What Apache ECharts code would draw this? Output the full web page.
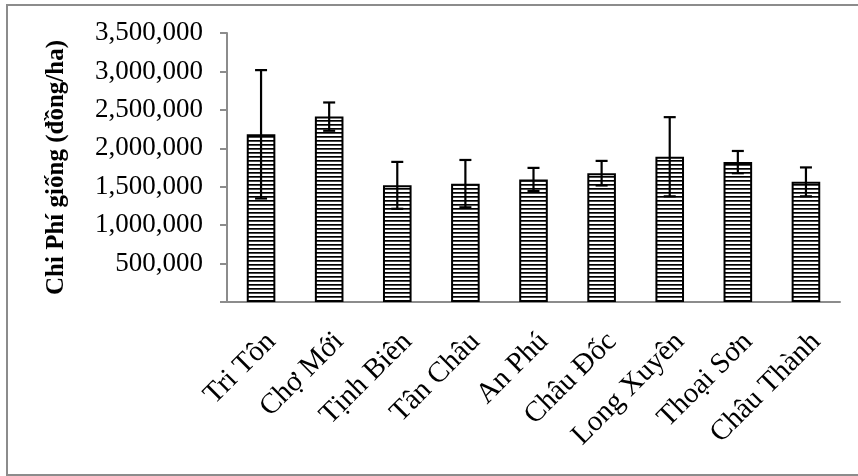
<!DOCTYPE html>
<html>
<head>
<meta charset="utf-8">
<script src="https://cdn.jsdelivr.net/npm/echarts@6/dist/echarts.min.js"></script>
<style>
html,body{margin:0;padding:0;background:#fff;}
#chart{width:858px;height:476px;}
</style>
</head>
<body>
<div id="chart"></div>
<script>
var categories = ['Tri Tôn', 'Chợ Mới', 'Tịnh Biên', 'Tân Châu', 'An Phú', 'Châu Đốc', 'Long Xuyên', 'Thoại Sơn', 'Châu Thành'];
var means = [2182000, 2412000, 1518000, 1540000, 1595000, 1676000, 1890000, 1820000, 1563000];
var errors = [835000, 184000, 305000, 308000, 150000, 160000, 515000, 145000, 188000];
var yTicks = [0, 500000, 1000000, 1500000, 2000000, 2500000, 3000000, 3500000];
var yTitle = 'Chi Phí giống (đồng/ha)';

var FONT = '"Liberation Serif", "Times New Roman", serif';

// stripe pattern
var pc = document.createElement('canvas');
pc.width = 8; pc.height = 4;
var ctx = pc.getContext('2d');
ctx.fillStyle = '#ffffff'; ctx.fillRect(0, 0, 8, 4);
ctx.fillStyle = '#000000'; ctx.fillRect(0, 0, 8, 1.7);

var errData = means.map(function (m, i) { return [i, m - errors[i], m + errors[i]]; });

function fmt(v) {
  if (v === 0) return '';
  return String(v).replace(/\B(?=(\d{3})+(?!\d))/g, ',');
}

var chart = echarts.init(document.getElementById('chart'), null, {renderer: 'canvas'});
chart.setOption({
  animation: false,
  backgroundColor: '#ffffff',
  graphic: [{
    type: 'rect',
    shape: {x: 7, y: 5, width: 870, height: 470},
    style: {fill: 'none', stroke: '#8c8c8c', lineWidth: 2},
    silent: true
  }],
  grid: {left: 227, right: 18, top: 33, bottom: 174, containLabel: false},
  xAxis: {
    type: 'category',
    data: categories,
    axisLine: {show: true, lineStyle: {color: '#8c8c8c', width: 2}},
    axisTick: {show: false},
    axisLabel: {
      rotate: 45,
      interval: 0,
      margin: 25,
      verticalAlign: 'top',
      color: '#000',
      fontFamily: FONT,
      fontSize: 29
    }
  },
  yAxis: {
    type: 'value',
    min: yTicks[0],
    max: yTicks[yTicks.length - 1],
    interval: yTicks[1] - yTicks[0],
    name: yTitle,
    nameLocation: 'middle',
    nameGap: 158,
    nameRotate: 90,
    nameTextStyle: {fontFamily: FONT, fontSize: 25, fontWeight: 'bold', color: '#000'},
    axisLine: {show: true, lineStyle: {color: '#8c8c8c', width: 2}},
    axisTick: {show: true, length: 7, lineStyle: {color: '#8c8c8c', width: 2}},
    splitLine: {show: false},
    axisLabel: {
      formatter: fmt,
      color: '#000',
      fontFamily: FONT,
      fontSize: 27,
      margin: 24
    }
  },
  series: [{
    type: 'bar',
    data: means,
    barWidth: '42%',
    itemStyle: {
      color: {image: pc, repeat: 'repeat'},
      borderColor: '#000',
      borderWidth: 2
    },
    z: 2
  }, {
    type: 'custom',
    data: errData,
    z: 3,
    renderItem: function (params, api) {
      var x = api.value(0);
      var lo = api.coord([x, api.value(1)]);
      var hi = api.coord([x, api.value(2)]);
      var hw = 6;
      var st = {stroke: '#000', lineWidth: 2.2};
      return {
        type: 'group',
        children: [
          {type: 'line', shape: {x1: hi[0], y1: hi[1], x2: lo[0], y2: lo[1]}, style: st},
          {type: 'line', shape: {x1: hi[0] - hw, y1: hi[1], x2: hi[0] + hw, y2: hi[1]}, style: st},
          {type: 'line', shape: {x1: lo[0] - hw, y1: lo[1], x2: lo[0] + hw, y2: lo[1]}, style: st}
        ]
      };
    }
  }]
});
</script>
</body>
</html>
